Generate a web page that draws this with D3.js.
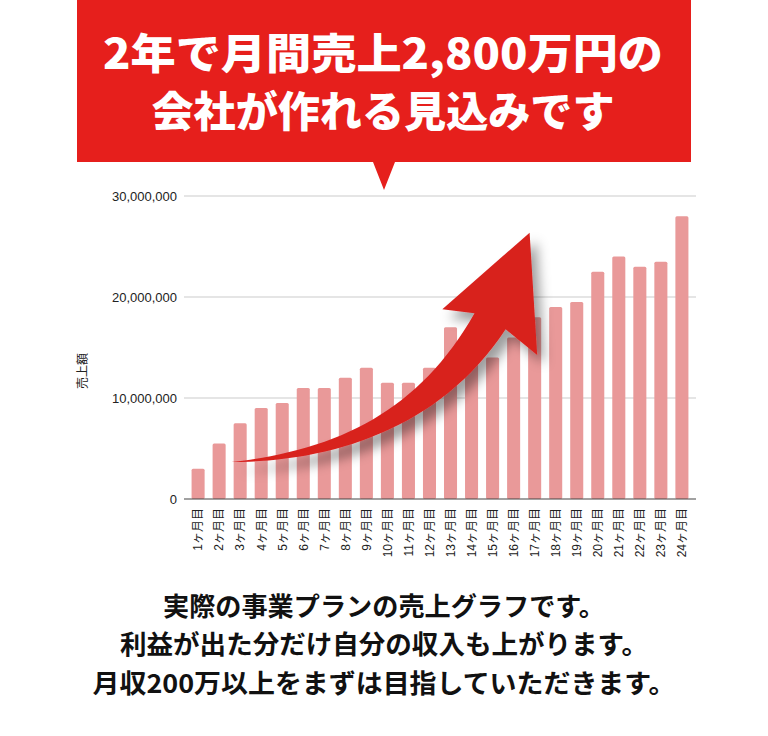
<!DOCTYPE html>
<html>
<head>
<meta charset="utf-8">
<script src="https://cdn.jsdelivr.net/npm/d3@7/dist/d3.min.js"></script>
<style>
  html, body { margin: 0; padding: 0; background: #fff; }
  svg { display: block; }
</style>
</head>
<body>
<svg id="chart" width="768" height="736"></svg>
<script>
// ---- data ----
const months = ["1ヶ月目","2ヶ月目","3ヶ月目","4ヶ月目","5ヶ月目","6ヶ月目","7ヶ月目","8ヶ月目",
  "9ヶ月目","10ヶ月目","11ヶ月目","12ヶ月目","13ヶ月目","14ヶ月目","15ヶ月目","16ヶ月目",
  "17ヶ月目","18ヶ月目","19ヶ月目","20ヶ月目","21ヶ月目","22ヶ月目","23ヶ月目","24ヶ月目"];
const sales = [3000000, 5500000, 7500000, 9000000, 9500000, 11000000, 11000000, 12000000,
  13000000, 11500000, 11500000, 13000000, 17000000, 15000000, 14000000, 16000000,
  18000000, 19000000, 19500000, 22500000, 24000000, 23000000, 23500000, 28000000];
const yTicks = [0, 10000000, 20000000, 30000000];
const yLabel = "売上額";
const titleLines = ["2年で月間売上2,800万円の", "会社が作れる見込みです"];
const captionLines = ["実際の事業プランの売上グラフです。", "利益が出た分だけ自分の収入も上がります。", "月収200万以上をまずは目指していただきます。"];

// ---- layout ----
const svg = d3.select("#chart");
const plot = { left: 184, right: 696, top: 196, bottom: 499 };

const x = d3.scaleBand().domain(months).range([plot.left, plot.right])
  .paddingInner(0.38).paddingOuter(0.36);
const y = d3.scaleLinear().domain([0, 30000000]).range([plot.bottom, plot.top]);
// continuous month position (1 = centre of first bar) for the decorative arrow
const xm = d3.scaleLinear().domain([1, 24])
  .range([x(months[0]) + x.bandwidth() / 2, x(months[23]) + x.bandwidth() / 2]);

const defs = svg.append("defs");
const f = defs.append("filter").attr("id", "shadow")
  .attr("x", "-30%").attr("y", "-30%").attr("width", "160%").attr("height", "160%");
f.append("feDropShadow").attr("dx", 7).attr("dy", 9).attr("stdDeviation", 6)
  .attr("flood-color", "#000").attr("flood-opacity", 0.38);

// gridlines
svg.append("g").selectAll("line").data(yTicks.filter(d => d > 0)).join("line")
  .attr("x1", plot.left).attr("x2", plot.right)
  .attr("y1", d => y(d)).attr("y2", d => y(d))
  .attr("stroke", "#dcdcdc").attr("stroke-width", 1.5);

// y tick labels
const fmt = d3.format(",");
svg.append("g").selectAll("text").data(yTicks).join("text")
  .attr("x", 177).attr("y", d => y(d)).attr("dy", "0.35em")
  .attr("text-anchor", "end")
  .attr("font-family", "'Liberation Sans', Arial, sans-serif")
  .attr("font-size", 13).attr("fill", "#222")
  .text(d => fmt(d));

// y axis title
svg.append("text")
  .attr("transform", "translate(83,371) rotate(-90)")
  .attr("text-anchor", "middle").attr("dy", "0.35em")
  .attr("font-family", "'Noto Sans CJK JP', sans-serif")
  .attr("font-size", 12).attr("fill", "#222")
  .text(yLabel);

// bars
svg.append("g").selectAll("rect").data(sales).join("rect")
  .attr("x", (d, i) => x(months[i]))
  .attr("y", d => y(d))
  .attr("width", x.bandwidth())
  .attr("height", d => y(0) - y(d))
  .attr("rx", 1.5)
  .attr("fill", "#e99999");

// baseline
svg.append("line")
  .attr("x1", plot.left).attr("x2", plot.right)
  .attr("y1", y(0)).attr("y2", y(0))
  .attr("stroke", "#444").attr("stroke-width", 1.2);

// x labels
svg.append("g").selectAll("text").data(months).join("text")
  .attr("transform", d => `translate(${x(d) + x.bandwidth() / 2},508) rotate(-90)`)
  .attr("text-anchor", "end").attr("dy", "0.36em")
  .attr("font-family", "'Liberation Sans', 'Noto Sans CJK JP', sans-serif")
  .attr("font-size", 12).attr("fill", "#222")
  .text(d => d);

// decorative arrow (defined in month / value units)
const P = (m, v) => [xm(m), y(v * 1e6)];
const tail = P(2.59, 3.66);
const tc1 = P(7.73, 4.85), tc2 = P(11.53, 8.81), tJoin = P(14.14, 18.39);
const lBarb = P(12.61, 18.78), tip = P(16.76, 26.37), rBarb = P(17.12, 14.26);
const bJoin = P(15.62, 16.80), bc2 = P(12.48, 6.83), bc1 = P(7.25, 3.66);
const ap = d3.path();
ap.moveTo(...tail);
ap.bezierCurveTo(...tc1, ...tc2, ...tJoin);
ap.lineTo(...lBarb);
ap.lineTo(...tip);
ap.lineTo(...rBarb);
ap.lineTo(...bJoin);
ap.bezierCurveTo(...bc2, ...bc1, ...tail);
ap.closePath();
svg.append("path").attr("d", ap.toString())
  .attr("fill", "#d8211f").attr("filter", "url(#shadow)");

// banner
const bp = d3.path();
bp.moveTo(77, 0); bp.lineTo(691, 0); bp.lineTo(691, 162);
bp.lineTo(395, 162); bp.lineTo(384, 190); bp.lineTo(373, 162);
bp.lineTo(77, 162); bp.closePath();
svg.append("path").attr("d", bp.toString()).attr("fill", "#e61f1c");

const titleSpec = [{ y: 69, len: 560 }, { y: 127, len: 463 }];
svg.append("g").selectAll("text").data(titleLines).join("text")
  .attr("x", 383).attr("y", (d, i) => titleSpec[i].y)
  .attr("text-anchor", "middle")
  .attr("font-family", "'Noto Sans CJK JP', sans-serif")
  .attr("font-weight", 900).attr("font-size", 42).attr("fill", "#fff")
  .attr("textLength", (d, i) => titleSpec[i].len)
  .attr("lengthAdjust", "spacingAndGlyphs")
  .text(d => d);

// caption
const capSpec = [{ y: 616, len: 442 }, { y: 654, len: 528 }, { y: 693, len: 583 }];
svg.append("g").selectAll("text").data(captionLines).join("text")
  .attr("x", 384).attr("y", (d, i) => capSpec[i].y)
  .attr("text-anchor", "middle")
  .attr("font-family", "'Noto Sans CJK JP', sans-serif")
  .attr("font-weight", 700).attr("font-size", 26).attr("fill", "#111")
  .attr("textLength", (d, i) => capSpec[i].len)
  .attr("lengthAdjust", "spacingAndGlyphs")
  .text(d => d);
</script>
</body>
</html>
